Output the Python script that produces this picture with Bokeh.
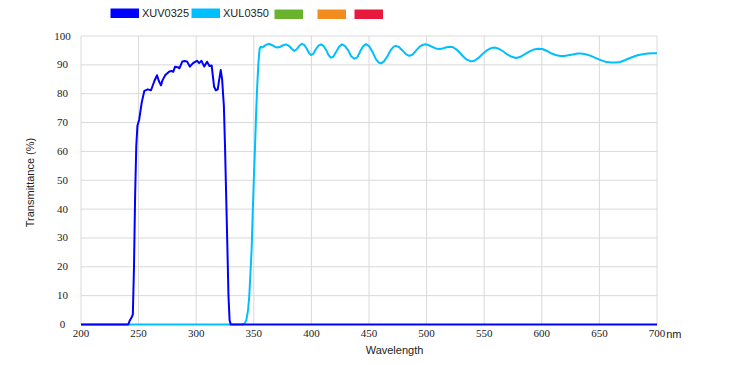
from bokeh.plotting import figure
from bokeh.models import (ColumnDataSource, Label, LabelSet, Legend, LegendItem, Range1d)
from bokeh.embed import file_html
from bokeh.resources import INLINE

# ---------------- data ----------------
wl_xuv0325 = [200, 241, 242.5, 244, 245, 246, 247, 248, 249, 250.5, 252.7, 255, 257.9,
              260.8, 263.7, 266, 267.5, 269.4, 270.8, 273.2, 276.7, 278.7, 280.1, 281.6,
              284, 285.4, 288, 290, 292, 294.5, 297, 299, 300.7, 302.6, 304.6, 307, 309.4,
              311.5, 313.4, 314.5, 315.5, 317, 318.7, 320, 321.3, 322.5, 323.3, 324, 325,
              326, 327, 328, 329, 330, 700]
t_xuv0325 = [0, 0, 1.5, 2.5, 3.5, 20, 45, 62, 69, 71, 76.9, 81, 81.5,
             81.2, 84.4, 86.4, 84.5, 82.9, 84.7, 86.5, 87.7, 87.9, 87.6, 89.3,
             89.2, 88.8, 91.2, 91.3, 91.2, 89.4, 90.5, 91, 91.4, 90.6, 91.4, 89.4, 91.1,
             89.6, 89.8, 86, 82.5, 81.2, 81.5, 85, 88.2, 85, 80, 76, 62,
             45, 28, 10, 1.5, 0, 0]

wl_xul0350 = [200, 340, 342, 343.5, 345, 346, 347, 348.2, 349, 350, 351, 352, 353, 354, 355,
              356, 357.5, 359, 361, 363.5, 366, 368.5, 370.7, 373, 375.5, 378, 380.5, 383,
              385.2, 387.5, 389.5, 391.8, 394, 396, 398, 399.7, 401.5, 404, 406, 408.3,
              410.5, 413, 415, 417, 419, 421.5, 424, 426.6, 429, 432, 434.5, 437.3, 440,
              442.5, 445, 447.4, 450, 453, 456, 458.5, 460.4, 463, 466, 469, 471.5, 473.4,
              476, 479, 482, 485, 488, 491, 494, 497, 499.5, 502, 505, 508, 511, 514, 517.5,
              520.6, 523, 526, 529, 532, 535, 538.5, 541.5, 545, 549, 553, 556, 558.8, 562,
              566, 570, 574, 577.6, 581, 585, 589, 593, 597, 600.5, 604, 608, 612, 616,
              619.5, 623, 627, 631, 634, 638, 642, 646, 650, 655, 660, 664.4, 668, 672, 676,
              680, 684, 688, 692, 696, 700]
t_xul0350 = [0, 0, 0.3, 1.5, 5, 9.5, 17, 27, 38, 50, 61, 73, 83, 90.5, 95.5,
             96.3, 96, 96.5, 97, 97.3, 96.8, 96.2, 96, 96.3, 96.8, 97.1, 96.6, 95.6,
             94.8, 95.5, 96.6, 97.3, 96.8, 95.6, 94, 93.4, 93.8, 95.5, 96.6, 97.1,
             96.6, 95, 93.3, 92.5, 92.8, 94.5, 96.3, 97.1, 96.6, 95, 93, 92.1, 92.7,
             94.8, 96.5, 97.2, 96.5, 94.5, 92, 90.8, 90.5, 91.2, 93, 95.2, 96.3, 96.6,
             96.2, 95, 93.7, 93.1, 93.6, 95, 96.3, 97, 97.1, 96.8, 96.2, 95.7, 95.5, 95.7, 96.1,
             96.3, 96.1, 95.3, 94.1, 92.8, 91.8, 91.2, 91.4, 92.4, 93.9, 95.2, 95.8, 96, 95.7,
             94.8, 93.6, 92.8, 92.4, 92.7, 93.6, 94.6, 95.3, 95.6, 95.5, 94.9, 94, 93.4, 93.1,
             93.1, 93.3, 93.6, 93.9, 93.9, 93.7, 93.2, 92.5, 91.8, 91.1, 90.8, 90.8, 91, 91.6, 92.3,
             92.9, 93.4, 93.7, 93.9, 94, 94]

series_names = ["XUV0325", "XUL0350", "", "", ""]
series_colors = ["#0000ff", "#00bfff", "#6ab42d", "#f28c1e", "#e8193c"]

x_ticks = [200, 250, 300, 350, 400, 450, 500, 550, 600, 650, 700]
y_ticks = [0, 10, 20, 30, 40, 50, 60, 70, 80, 90, 100]
x_unit = "nm"
x_title = "Wavelength"
y_title = "Transmittance (%)"

# ---------------- layout constants (pixels) ----------------
W, H = 730, 365
PX_LEFT, PX_RIGHT = 80.5, 656.5      # where x = 200 and x = 700 fall
PX_TOP, PX_BOTTOM = 35.5, 324.0      # where y = 100 and y = 0 fall (from top)
FONT = "Liberation Sans"
TXT = "#222222"
GRID = "#d9d9d9"
NAN = float("nan")

xmin, xmax = x_ticks[0], x_ticks[-1]
ymin, ymax = y_ticks[0], y_ticks[-1]
kx = (PX_RIGHT - PX_LEFT) / (xmax - xmin)
ky = (PX_BOTTOM - PX_TOP) / (ymax - ymin)
x_range = Range1d(xmin - PX_LEFT / kx, xmin + (W - PX_LEFT) / kx)
y_range = Range1d(ymin - (H - PX_BOTTOM) / ky, ymin + PX_BOTTOM / ky)

p = figure(width=W, height=H, output_backend="svg", toolbar_location=None,
           x_range=x_range, y_range=y_range, min_border=0,
           x_axis_location=None, y_axis_location=None)
p.grid.visible = False
p.outline_line_color = None
p.background_fill_color = "white"
p.border_fill_color = "white"

# grid lines, only across the plotting area
p.segment(x0=x_ticks, y0=[ymin] * len(x_ticks), x1=x_ticks, y1=[ymax] * len(x_ticks),
          line_color=GRID, line_width=1)
p.segment(x0=[xmin] * len(y_ticks), y0=y_ticks, x1=[xmax] * len(y_ticks), y1=y_ticks,
          line_color=GRID, line_width=1)

# tick labels
ysrc = ColumnDataSource(dict(y=y_ticks, text=[str(v) for v in y_ticks]))
p.add_layout(LabelSet(x=62, y="y", x_units="screen", text="text", source=ysrc,
                      text_align="center", text_baseline="middle",
                      text_font=FONT, text_font_size="11px", text_color=TXT))
xsrc = ColumnDataSource(dict(x=x_ticks, text=[str(v) for v in x_ticks]))
p.add_layout(LabelSet(x="x", y=H - 333, y_units="screen", text="text", source=xsrc,
                      text_align="center", text_baseline="middle",
                      text_font=FONT, text_font_size="11px", text_color=TXT))
p.add_layout(Label(x=xmax, y=H - 333, y_units="screen", x_offset=9.2, text=x_unit,
                   text_align="left", text_baseline="middle",
                   text_font=FONT, text_font_size="11px", text_color=TXT))

# axis titles
p.add_layout(Label(x=394, y=H - 349, x_units="screen", y_units="screen", text=x_title,
                   text_align="center", text_baseline="middle",
                   text_font=FONT, text_font_size="11px", text_color=TXT))
p.add_layout(Label(x=29, y=H - 182, x_units="screen", y_units="screen", text=y_title,
                   angle=1.5707963, text_align="center", text_baseline="middle",
                   text_font=FONT, text_font_size="11px", text_color=TXT))

# lines
p.line(wl_xul0350, t_xul0350, line_color=series_colors[1], line_width=2, line_join="round")
p.line(wl_xuv0325, t_xuv0325, line_color=series_colors[0], line_width=2, line_join="round")

# legend swatches (legend-only thick lines with no visible data -> 29x10 blocks)
legend_x = [110, 191, 274, 317, 354]
for name, col, lx in zip(series_names, series_colors, legend_x):
    r = p.line(x=[NAN], y=[NAN], line_color=col, line_width=10, line_cap="butt")
    lg = Legend(items=[LegendItem(label=name if name else " ", renderers=[r])],
                location=(lx, H - 19), orientation="horizontal",
                padding=0, margin=0, spacing=0,
                glyph_width=29, glyph_height=10, label_height=10, label_width=0,
                label_standoff=3, border_line_color=None, background_fill_alpha=0,
                label_text_font=FONT, label_text_font_size="11px", label_text_color=TXT)
    p.add_layout(lg)

open("out.html", "w").write(file_html(p, INLINE))
